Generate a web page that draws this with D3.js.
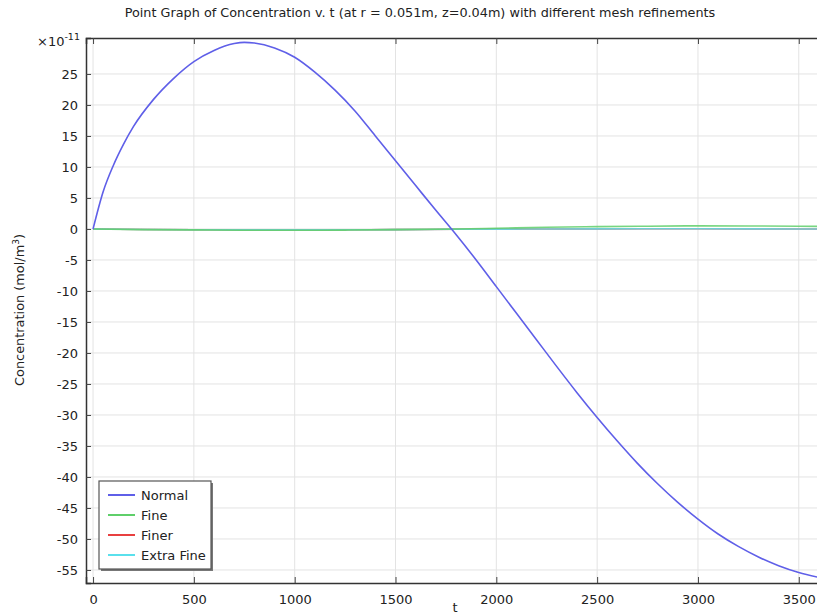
<!DOCTYPE html>
<html>
<head>
<meta charset="utf-8">
<script src="https://cdn.jsdelivr.net/npm/d3@7"></script>
<style>
  body { margin: 0; background: #fff; }
  svg { font-family: "DejaVu Sans", sans-serif; }
</style>
</head>
<body>
<div id="chart"></div>
<script>
// time values (s)
const tNormal = [0, 50, 100, 150, 200, 300, 400, 500, 600, 700, 750, 800, 900, 1000, 1100, 1200, 1300, 1400, 1500, 1600, 1700, 1800, 1900, 2000, 2100, 2200, 2300, 2400, 2500, 2600, 2700, 2800, 2900, 3000, 3100, 3200, 3300, 3400, 3500, 3600];
const normal  = [0, 6.0, 10.2, 13.6, 16.5, 20.9, 24.3, 27.0, 28.8, 29.9, 30.1, 30.0, 29.2, 27.7, 25.3, 22.4, 19.0, 15.0, 11.0, 7.0, 3.0, -0.9, -5.0, -9.3, -13.6, -17.9, -22.2, -26.4, -30.4, -34.2, -37.8, -41.1, -44.1, -46.8, -49.2, -51.2, -52.9, -54.3, -55.4, -56.2];

const tMesh = [0, 250, 500, 750, 1000, 1250, 1500, 1800, 2000, 2250, 2500, 2750, 3000, 3250, 3500, 3600];
const fine      = [0, -0.1, -0.15, -0.2, -0.2, -0.18, -0.1, 0, 0.12, 0.28, 0.38, 0.45, 0.5, 0.48, 0.45, 0.42];
const finer     = [0, -0.08, -0.12, -0.15, -0.15, -0.13, -0.1, -0.05, -0.03, 0, 0.02, 0.03, 0.03, 0.02, 0, 0];
const extraFine = [0, -0.08, -0.12, -0.15, -0.15, -0.13, -0.1, -0.05, -0.03, 0, 0.02, 0.03, 0.03, 0.02, 0, 0];

const xTicks = [0, 500, 1000, 1500, 2000, 2500, 3000, 3500];
const yTicks = [-55, -50, -45, -40, -35, -30, -25, -20, -15, -10, -5, 0, 5, 10, 15, 20, 25];

const seriesNames = ["Normal", "Fine", "Finer", "Extra Fine"];
const colors = {
  "Normal": "#5f5fe8",
  "Fine": "#5fcf6a",
  "Finer": "#e84040",
  "Extra Fine": "#5ae0ec"
};

const W = 817, H = 616;
const pLeft = 86, pRight = 827, pTop = 38, pBottom = 583;

const svg = d3.select("#chart").append("svg")
  .attr("width", W).attr("height", H);

const x = d3.scaleLinear().domain([-35, 3640]).range([pLeft, pRight]);
const y = d3.scaleLinear().domain([-57.1, 30.8]).range([pBottom, pTop]);

// grid
svg.append("g").selectAll("line").data(xTicks).join("line")
  .attr("x1", d => x(d)).attr("x2", d => x(d))
  .attr("y1", pTop).attr("y2", pBottom)
  .attr("stroke", "#e3e3e3").attr("stroke-width", 1);
svg.append("g").selectAll("line").data(yTicks).join("line")
  .attr("x1", pLeft).attr("x2", pRight)
  .attr("y1", d => y(d)).attr("y2", d => y(d))
  .attr("stroke", "#e3e3e3").attr("stroke-width", 1);

// series
const line = d3.line().x(d => x(d[0])).y(d => y(d[1])).curve(d3.curveMonotoneX);
svg.append("clipPath").attr("id", "clip").append("rect")
  .attr("x", pLeft).attr("y", pTop).attr("width", pRight - pLeft).attr("height", pBottom - pTop);
const plot = svg.append("g").attr("clip-path", "url(#clip)");

const data = [
  ["Finer", tMesh, finer],
  ["Extra Fine", tMesh, extraFine],
  ["Fine", tMesh, fine],
  ["Normal", tNormal, normal]
];
data.forEach(([name, ts, vs]) => {
  plot.append("path")
    .attr("d", line(ts.map((t, i) => [t, vs[i]])))
    .attr("fill", "none")
    .attr("stroke", colors[name])
    .attr("stroke-width", 1.6)
    .attr("stroke-opacity", name === "Normal" ? 1 : 0.85);
});

// axes (ticks pointing inward)
const fmt = d => String(d);
const axB = svg.append("g").attr("transform", `translate(0,${pBottom})`)
  .call(d3.axisBottom(x).tickValues(xTicks).tickFormat(fmt).tickSize(-6).tickPadding(12));
const axT = svg.append("g").attr("transform", `translate(0,${pTop})`)
  .call(d3.axisTop(x).tickValues(xTicks).tickSize(-6).tickFormat(""));
const axL = svg.append("g").attr("transform", `translate(${pLeft},0)`)
  .call(d3.axisLeft(y).tickValues(yTicks).tickFormat(fmt).tickSize(-5).tickPadding(8));
[axB, axT, axL].forEach(g => {
  g.select(".domain").attr("stroke", "#333").attr("stroke-width", 1.5);
  g.selectAll(".tick line").attr("stroke", "#444");
  g.selectAll("text").attr("font-size", 13).attr("fill", "#222")
    .attr("font-family", "DejaVu Sans");
});

// exponent
const ex = svg.append("text").attr("x", 37).attr("y", 46)
  .attr("font-size", 13).attr("fill", "#222");
ex.append("tspan").text("\u00d710");
ex.append("tspan").attr("dy", -6).attr("font-size", 9.5).text("-11");

// title
svg.append("text").attr("x", 420).attr("y", 17).attr("text-anchor", "middle")
  .attr("font-size", 12.8).attr("fill", "#222")
  .text("Point Graph of Concentration v. t (at r = 0.051m, z=0.04m) with different mesh refinements");

// axis labels
svg.append("text").attr("x", 455).attr("y", 612).attr("text-anchor", "middle")
  .attr("font-size", 13).attr("fill", "#222").text("t");
const yl = svg.append("text").attr("transform", "translate(24,310) rotate(-90)")
  .attr("text-anchor", "middle").attr("font-size", 12.9).attr("fill", "#222");
yl.append("tspan").text("Concentration (mol/m");
yl.append("tspan").attr("dy", -5).attr("font-size", 9).text("3");
yl.append("tspan").attr("dy", 5).text(")");

// legend
const lg = svg.append("g").attr("transform", "translate(99,481)");
lg.append("rect").attr("x", 2).attr("y", 2).attr("width", 112).attr("height", 88)
  .attr("fill", "#777");
lg.append("rect").attr("width", 112).attr("height", 88)
  .attr("fill", "#fff").attr("stroke", "#555").attr("stroke-width", 1.2);
seriesNames.forEach((name, i) => {
  const row = lg.append("g").attr("transform", `translate(0,${14 + i * 20})`);
  row.append("line").attr("x1", 9).attr("x2", 36).attr("y1", 0).attr("y2", 0)
    .attr("stroke", colors[name]).attr("stroke-width", 2);
  row.append("text").attr("x", 42).attr("y", 4.5).attr("font-size", 13)
    .attr("fill", "#222").text(name);
});
</script>
</body>
</html>
